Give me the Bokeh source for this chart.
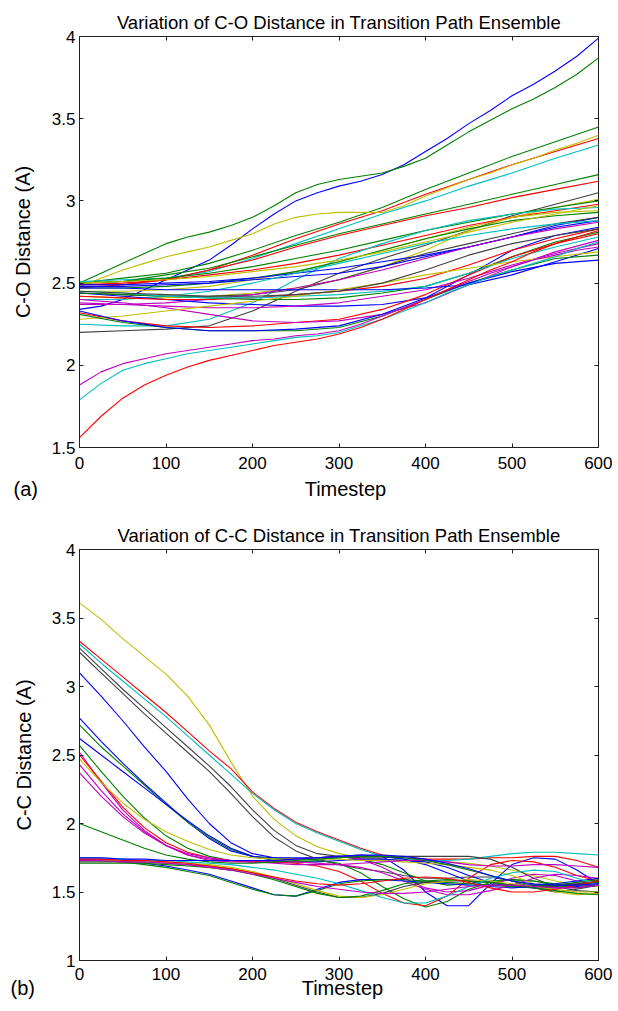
from bokeh.plotting import figure
from bokeh.layouts import column
from bokeh.models import LinearAxis, FixedTicker, CustomJSTickFormatter, Range1d, Title
from bokeh.embed import file_html
from bokeh.resources import INLINE

# ---------------- (a) C-O distance ----------------
co_steps = [0, 50, 100, 150, 200, 250, 300, 350, 400, 450, 500, 550, 600]
co_steps_fine = [0, 25, 50, 75, 100, 125, 150, 175, 200, 225, 250, 275, 300,
                 325, 350, 375, 400, 425, 450, 475, 500, 525, 550, 575, 600]
co_01 = [2.34, 2.36, 2.40, 2.46, 2.52, 2.58, 2.64, 2.73, 2.83, 2.92, 3.00, 3.05, 3.09, 3.12, 3.16, 3.22, 3.30, 3.38, 3.47, 3.55, 3.64, 3.71, 3.79, 3.88, 3.99]
co_02 = [2.50, 2.56, 2.62, 2.68, 2.74, 2.78, 2.81, 2.85, 2.90, 2.97, 3.05, 3.10, 3.13, 3.15, 3.17, 3.21, 3.26, 3.34, 3.42, 3.49, 3.56, 3.62, 3.69, 3.77, 3.87]
co_03 = [2.50, 2.53, 2.56, 2.62, 2.70, 2.79, 2.87, 2.96, 3.07, 3.17, 3.27, 3.36, 3.45]
co_04 = [2.49, 2.49, 2.52, 2.58, 2.67, 2.77, 2.86, 2.94, 3.04, 3.13, 3.22, 3.30, 3.38]
co_05 = [2.48, 2.53, 2.58, 2.62, 2.66, 2.69, 2.72, 2.76, 2.80, 2.86, 2.90, 2.92, 2.93, 2.93, 2.93, 2.97, 3.03, 3.08, 3.13, 3.17, 3.22, 3.26, 3.31, 3.35, 3.40]
co_06 = [2.51, 2.52, 2.53, 2.57, 2.65, 2.74, 2.83, 2.92, 3.00, 3.09, 3.17, 3.26, 3.34]
co_07 = [2.50, 2.51, 2.55, 2.59, 2.66, 2.73, 2.80, 2.86, 2.92, 2.98, 3.04, 3.10, 3.16]
co_08 = [2.47, 2.49, 2.52, 2.58, 2.64, 2.72, 2.79, 2.85, 2.91, 2.96, 3.02, 3.07, 3.12]
co_09 = [2.20, 2.21, 2.22, 2.24, 2.33, 2.45, 2.56, 2.65, 2.73, 2.82, 2.91, 2.98, 3.05]
co_10 = [2.45, 2.45, 2.46, 2.48, 2.52, 2.57, 2.63, 2.70, 2.77, 2.84, 2.90, 2.96, 3.01]
co_11 = [2.50, 2.51, 2.53, 2.56, 2.60, 2.65, 2.70, 2.76, 2.82, 2.87, 2.92, 2.96, 3.00]
co_12 = [2.49, 2.50, 2.52, 2.55, 2.58, 2.62, 2.67, 2.73, 2.79, 2.85, 2.90, 2.94, 2.98]
co_13 = [2.25, 2.24, 2.24, 2.28, 2.38, 2.52, 2.65, 2.74, 2.82, 2.88, 2.92, 2.95, 2.96]
co_14 = [2.42, 2.41, 2.41, 2.42, 2.44, 2.47, 2.52, 2.60, 2.70, 2.82, 2.90, 2.93, 2.94]
co_15 = [2.47, 2.47, 2.48, 2.50, 2.53, 2.57, 2.63, 2.70, 2.77, 2.83, 2.88, 2.91, 2.93]
co_16 = [2.49, 2.49, 2.50, 2.51, 2.53, 2.56, 2.59, 2.63, 2.67, 2.72, 2.78, 2.85, 2.90]
co_17 = [2.44, 2.43, 2.42, 2.42, 2.43, 2.46, 2.52, 2.60, 2.68, 2.74, 2.80, 2.86, 2.90]
co_18 = [2.48, 2.48, 2.49, 2.50, 2.52, 2.54, 2.56, 2.60, 2.66, 2.72, 2.78, 2.84, 2.88]
co_19 = [2.40, 2.40, 2.42, 2.45, 2.50, 2.56, 2.62, 2.68, 2.74, 2.79, 2.83, 2.86, 2.88]
co_20 = [2.37, 2.37, 2.38, 2.40, 2.43, 2.47, 2.52, 2.58, 2.65, 2.72, 2.78, 2.83, 2.87]
co_21 = [2.44, 2.42, 2.40, 2.38, 2.37, 2.36, 2.36, 2.37, 2.41, 2.55, 2.70, 2.79, 2.84]
co_22 = [2.42, 2.41, 2.40, 2.40, 2.41, 2.43, 2.45, 2.48, 2.53, 2.61, 2.70, 2.77, 2.83]
co_23 = [2.44, 2.43, 2.42, 2.41, 2.40, 2.40, 2.41, 2.44, 2.48, 2.56, 2.66, 2.75, 2.81]
co_24 = [2.32, 2.27, 2.24, 2.23, 2.24, 2.26, 2.28, 2.34, 2.43, 2.55, 2.66, 2.74, 2.80]
co_25 = [2.45, 2.44, 2.42, 2.41, 2.41, 2.42, 2.43, 2.45, 2.48, 2.56, 2.65, 2.72, 2.78]
co_26 = [2.40, 2.38, 2.35, 2.31, 2.27, 2.26, 2.27, 2.31, 2.38, 2.49, 2.60, 2.69, 2.76]
co_27 = [2.38, 2.37, 2.36, 2.35, 2.35, 2.36, 2.38, 2.42, 2.46, 2.53, 2.61, 2.68, 2.74]
co_28 = [2.47, 2.47, 2.46, 2.46, 2.46, 2.46, 2.46, 2.46, 2.47, 2.49, 2.55, 2.63, 2.71]
co_29 = [2.28, 2.30, 2.33, 2.36, 2.39, 2.42, 2.46, 2.50, 2.55, 2.59, 2.63, 2.66, 2.69]
co_30 = [2.31, 2.26, 2.23, 2.21, 2.21, 2.21, 2.23, 2.30, 2.40, 2.50, 2.58, 2.65, 2.67]
co_31 = [2.33, 2.27, 2.23, 2.21, 2.21, 2.22, 2.24, 2.31, 2.41, 2.50, 2.57, 2.62, 2.64]
co_32 = [1.88, 1.96, 2.01, 2.04, 2.07, 2.09, 2.11, 2.13, 2.15, 2.16, 2.18, 2.19, 2.21, 2.25, 2.30, 2.35, 2.40, 2.46, 2.51, 2.56, 2.60, 2.64, 2.67, 2.70, 2.72]
co_33 = [1.79, 1.89, 1.97, 2.01, 2.04, 2.07, 2.09, 2.11, 2.13, 2.15, 2.17, 2.18, 2.20, 2.24, 2.28, 2.33, 2.38, 2.44, 2.49, 2.54, 2.58, 2.62, 2.66, 2.71, 2.75]
co_34 = [1.56, 1.69, 1.80, 1.88, 1.94, 1.99, 2.03, 2.06, 2.09, 2.12, 2.14, 2.16, 2.19, 2.23, 2.28, 2.34, 2.40, 2.46, 2.52, 2.58, 2.63, 2.69, 2.74, 2.78, 2.82]
co_35 = [2.50, 2.51, 2.52, 2.54, 2.57, 2.60, 2.64, 2.69, 2.75, 2.81, 2.87, 2.92, 2.97]
co_36 = [2.45, 2.44, 2.43, 2.42, 2.42, 2.43, 2.45, 2.50, 2.58, 2.67, 2.74, 2.79, 2.83]
co_series = [co_01, co_02, co_03, co_04, co_05, co_06, co_07, co_08, co_09, co_10, co_11, co_12,
             co_13, co_14, co_15, co_16, co_17, co_18, co_19, co_20, co_21, co_22, co_23, co_24,
             co_25, co_26, co_27, co_28, co_29, co_30, co_31, co_32, co_33, co_34, co_35, co_36]
co_colors = ["b", "g", "g", "r", "y", "c", "g", "r", "k", "y", "g", "r",
             "c", "y", "g", "b", "k", "b", "c", "m", "b", "r", "g", "r",
             "c", "m", "m", "b", "y", "g", "b", "m", "c", "r", "y", "k"]
co_yticks = [1.5, 2, 2.5, 3, 3.5, 4]

# ---------------- (b) C-C distance ----------------
cc_steps = [0, 25, 50, 75, 100, 125, 150, 175, 200, 225, 250, 275, 300,
            325, 350, 375, 400, 425, 450, 475, 500, 525, 550, 575, 600]
cc_01 = [3.61, 3.49, 3.35, 3.22, 3.09, 2.93, 2.72, 2.45, 2.20, 2.03, 1.91, 1.83, 1.78, 1.75, 1.74, 1.73, 1.73, 1.72, 1.71, 1.69, 1.66, 1.62, 1.58, 1.55, 1.54]
cc_02 = [3.33, 3.20, 3.07, 2.94, 2.81, 2.67, 2.53, 2.40, 2.23, 2.11, 2.01, 1.94, 1.88, 1.82, 1.77, 1.75, 1.74, 1.74, 1.74, 1.75, 1.75, 1.76, 1.76, 1.73, 1.68]
cc_03 = [3.31, 3.17, 3.04, 2.91, 2.78, 2.64, 2.50, 2.36, 2.22, 2.10, 2.00, 1.93, 1.87, 1.81, 1.76, 1.74, 1.73, 1.73, 1.74, 1.76, 1.78, 1.79, 1.79, 1.78, 1.77]
cc_04 = [3.28, 3.13, 2.98, 2.84, 2.70, 2.56, 2.42, 2.27, 2.10, 1.95, 1.84, 1.78, 1.76, 1.75, 1.75, 1.76, 1.76, 1.76, 1.76, 1.74, 1.68, 1.60, 1.54, 1.51, 1.50]
cc_05 = [3.25, 3.10, 2.95, 2.80, 2.66, 2.52, 2.38, 2.22, 2.05, 1.90, 1.80, 1.74, 1.70, 1.67, 1.65, 1.62, 1.60, 1.60, 1.61, 1.61, 1.58, 1.53, 1.50, 1.52, 1.55]
cc_06 = [3.10, 2.93, 2.75, 2.56, 2.38, 2.18, 2.00, 1.86, 1.78, 1.75, 1.74, 1.74, 1.75, 1.76, 1.76, 1.74, 1.70, 1.64, 1.58, 1.54, 1.53, 1.54, 1.55, 1.56, 1.57]
cc_07 = [2.77, 2.60, 2.44, 2.29, 2.15, 2.01, 1.89, 1.80, 1.76, 1.75, 1.75, 1.75, 1.76, 1.77, 1.76, 1.66, 1.50, 1.40, 1.40, 1.56, 1.70, 1.75, 1.74, 1.66, 1.56]
cc_08 = [2.72, 2.56, 2.42, 2.28, 2.14, 2.01, 1.90, 1.81, 1.76, 1.74, 1.74, 1.75, 1.76, 1.74, 1.70, 1.64, 1.58, 1.55, 1.56, 1.58, 1.59, 1.58, 1.56, 1.55, 1.57]
cc_09 = [2.62, 2.50, 2.38, 2.26, 2.14, 2.02, 1.91, 1.82, 1.76, 1.73, 1.72, 1.72, 1.73, 1.74, 1.74, 1.73, 1.72, 1.68, 1.62, 1.57, 1.54, 1.53, 1.53, 1.54, 1.55]
cc_10 = [2.57, 2.38, 2.20, 2.04, 1.91, 1.82, 1.76, 1.73, 1.72, 1.72, 1.72, 1.73, 1.71, 1.64, 1.54, 1.45, 1.39, 1.43, 1.52, 1.57, 1.59, 1.58, 1.55, 1.53, 1.55]
cc_11 = [2.52, 2.30, 2.10, 1.95, 1.84, 1.77, 1.73, 1.72, 1.72, 1.73, 1.74, 1.75, 1.76, 1.74, 1.68, 1.60, 1.53, 1.50, 1.51, 1.55, 1.60, 1.63, 1.62, 1.58, 1.55]
cc_12 = [2.50, 2.31, 2.12, 1.97, 1.86, 1.79, 1.75, 1.73, 1.72, 1.72, 1.71, 1.69, 1.65, 1.58, 1.49, 1.42, 1.40, 1.47, 1.60, 1.70, 1.73, 1.72, 1.68, 1.62, 1.58]
cc_13 = [2.47, 2.30, 2.15, 2.03, 1.94, 1.87, 1.81, 1.77, 1.75, 1.74, 1.74, 1.74, 1.74, 1.73, 1.73, 1.72, 1.71, 1.70, 1.68, 1.66, 1.62, 1.56, 1.50, 1.48, 1.49]
cc_14 = [2.43, 2.24, 2.07, 1.94, 1.84, 1.77, 1.74, 1.73, 1.73, 1.72, 1.72, 1.71, 1.70, 1.68, 1.64, 1.58, 1.52, 1.48, 1.48, 1.51, 1.55, 1.60, 1.63, 1.62, 1.60]
cc_15 = [2.37, 2.20, 2.05, 1.93, 1.84, 1.78, 1.75, 1.73, 1.72, 1.71, 1.70, 1.70, 1.70, 1.71, 1.72, 1.73, 1.73, 1.72, 1.70, 1.69, 1.69, 1.70, 1.70, 1.69, 1.68]
cc_16 = [2.00, 1.94, 1.88, 1.82, 1.77, 1.74, 1.72, 1.71, 1.71, 1.72, 1.73, 1.74, 1.75, 1.76, 1.76, 1.75, 1.73, 1.70, 1.66, 1.62, 1.58, 1.55, 1.54, 1.55, 1.57]
cc_17 = [1.74, 1.74, 1.73, 1.71, 1.69, 1.66, 1.63, 1.58, 1.53, 1.48, 1.47, 1.52, 1.57, 1.59, 1.59, 1.58, 1.57, 1.56, 1.55, 1.55, 1.55, 1.55, 1.56, 1.58, 1.60]
cc_18 = [1.73, 1.73, 1.72, 1.70, 1.68, 1.65, 1.62, 1.57, 1.52, 1.48, 1.47, 1.51, 1.56, 1.58, 1.59, 1.59, 1.58, 1.57, 1.56, 1.55, 1.54, 1.54, 1.55, 1.57, 1.59]
cc_19 = [1.72, 1.72, 1.72, 1.72, 1.71, 1.70, 1.69, 1.67, 1.64, 1.60, 1.55, 1.50, 1.46, 1.46, 1.49, 1.54, 1.57, 1.58, 1.58, 1.57, 1.55, 1.54, 1.54, 1.56, 1.58]
cc_20 = [1.73, 1.73, 1.73, 1.72, 1.72, 1.71, 1.70, 1.68, 1.65, 1.61, 1.56, 1.51, 1.47, 1.46, 1.48, 1.52, 1.56, 1.58, 1.59, 1.58, 1.56, 1.54, 1.52, 1.50, 1.50]
cc_21 = [1.71, 1.71, 1.71, 1.71, 1.70, 1.69, 1.68, 1.66, 1.63, 1.59, 1.54, 1.49, 1.46, 1.47, 1.51, 1.56, 1.58, 1.59, 1.58, 1.57, 1.55, 1.53, 1.51, 1.49, 1.48]
cc_22 = [1.75, 1.75, 1.74, 1.73, 1.73, 1.72, 1.71, 1.70, 1.68, 1.66, 1.63, 1.60, 1.56, 1.51, 1.46, 1.42, 1.42, 1.47, 1.54, 1.60, 1.64, 1.66, 1.65, 1.60, 1.55]
cc_23 = [1.74, 1.74, 1.73, 1.73, 1.72, 1.71, 1.69, 1.67, 1.64, 1.61, 1.58, 1.56, 1.55, 1.56, 1.58, 1.60, 1.61, 1.60, 1.57, 1.53, 1.50, 1.50, 1.52, 1.55, 1.58]
cc_24 = [1.73, 1.73, 1.72, 1.72, 1.71, 1.70, 1.68, 1.66, 1.63, 1.60, 1.57, 1.54, 1.52, 1.50, 1.49, 1.49, 1.50, 1.52, 1.54, 1.55, 1.55, 1.54, 1.53, 1.53, 1.55]
cc_25 = [1.75, 1.75, 1.74, 1.74, 1.73, 1.73, 1.73, 1.73, 1.73, 1.73, 1.74, 1.75, 1.76, 1.77, 1.77, 1.76, 1.74, 1.71, 1.67, 1.62, 1.58, 1.56, 1.55, 1.55, 1.56]
cc_series = [cc_01, cc_02, cc_03, cc_04, cc_05, cc_06, cc_07, cc_08, cc_09, cc_10, cc_11, cc_12, cc_13,
             cc_14, cc_15, cc_16, cc_17, cc_18, cc_19, cc_20, cc_21, cc_22, cc_23, cc_24, cc_25]
cc_colors = ["y", "r", "c", "k", "k", "b", "b", "g", "b", "g", "m", "r", "y",
             "m", "m", "g", "b", "g", "k", "y", "g", "c", "r", "m", "b"]
cc_yticks = [1, 1.5, 2, 2.5, 3, 3.5, 4]

x_ticks = [0, 100, 200, 300, 400, 500, 600]
x_label = "Timestep"

PALETTE = {"b": "#0000ff", "g": "#008000", "r": "#ff0000", "c": "#00bfbf",
           "m": "#bf00bf", "y": "#bfbf00", "k": "#404040"}
FONT = "Liberation Sans"
NBSP = "\u00a0"


def build(title, ylabel, tag, step_sets, series, colors, y_ticks, y_lo, y_hi,
          width, height, b_left, b_right, b_top, b_bottom, ylab_standoff,
          xtick_standoff, row_standoff, tag_offset, gap):
    p = figure(width=width, height=height, output_backend="svg", toolbar_location=None,
               x_range=Range1d(0, 600), y_range=Range1d(y_lo, y_hi),
               min_border_left=b_left, min_border_right=b_right,
               min_border_top=b_top, min_border_bottom=b_bottom,
               background_fill_color="white", border_fill_color="white")
    p.grid.visible = False
    p.outline_line_color = "#202020"
    p.outline_line_width = 1

    for vals, c in zip(series, colors):
        steps = next(s for s in step_sets if len(s) == len(vals))
        p.line(steps, vals, line_color=PALETTE[c], line_width=1.1, line_join="round")

    p.title.text = title
    p.title.align = "center"
    p.title.text_font = FONT
    p.title.text_font_size = "18.5px"
    p.title.text_font_style = "normal"
    p.title.text_color = "black"
    p.title.standoff = 7

    xa = p.xaxis[0]
    ya = p.yaxis[0]
    xa.ticker = FixedTicker(ticks=x_ticks)
    ya.ticker = FixedTicker(ticks=y_ticks)
    xa.formatter = CustomJSTickFormatter(code="return tick.toString();")
    ya.formatter = CustomJSTickFormatter(code="return tick.toString();")
    ya.axis_label = ylabel
    for ax in (xa, ya):
        ax.major_tick_in = 4
        ax.major_tick_out = 0
        ax.minor_tick_line_color = None
        ax.axis_line_color = "#202020"
        ax.major_tick_line_color = "#202020"
        ax.major_label_text_font = FONT
        ax.major_label_text_font_size = "17px"
        ax.major_label_text_color = "black"
        ax.axis_label_text_font = FONT
        ax.axis_label_text_font_size = "20px"
        ax.axis_label_text_font_style = "normal"
        ax.axis_label_text_color = "black"
    xa.major_label_standoff = xtick_standoff
    ya.major_label_standoff = 4
    ya.axis_label_standoff = ylab_standoff

    blank = "return '';"
    top_ax = LinearAxis(ticker=FixedTicker(ticks=x_ticks),
                        formatter=CustomJSTickFormatter(code=blank),
                        major_label_text_font_size="0px", major_label_standoff=0,
                        axis_line_color=None, major_tick_in=4, major_tick_out=0,
                        major_tick_line_color="#202020", minor_tick_line_color=None)
    p.add_layout(top_ax, "above")
    right_ax = LinearAxis(ticker=FixedTicker(ticks=y_ticks),
                          formatter=CustomJSTickFormatter(code=blank),
                          major_label_text_font_size="0px", major_label_standoff=0,
                          axis_line_color=None, major_tick_in=4, major_tick_out=0,
                          major_tick_line_color="#202020", minor_tick_line_color=None)
    p.add_layout(right_ax, "right")

    # panel tag and x-axis label share one text row under the tick labels
    row = Title(text=tag + NBSP * gap + x_label, align="left", vertical_align="top",
                offset=tag_offset, standoff=row_standoff, text_font=FONT,
                text_font_size="20px", text_font_style="normal", text_color="black")
    p.add_layout(row, "below")
    return p


p1 = build("Variation of C-O Distance in Transition Path Ensemble", "C-O Distance (A)", "(a)",
           [co_steps, co_steps_fine], co_series, co_colors, co_yticks, 1.5, 4,
           width=612, height=508, b_left=75, b_right=14, b_top=36, b_bottom=61,
           ylab_standoff=15, xtick_standoff=9, row_standoff=12, tag_offset=-66, gap=48)
p2 = build("Variation of C-C Distance in Transition Path Ensemble", "C-C Distance (A)", "(b)",
           [cc_steps], cc_series, cc_colors, cc_yticks, 1, 4,
           width=612, height=492, b_left=79, b_right=12, b_top=41, b_bottom=40,
           ylab_standoff=14, xtick_standoff=7, row_standoff=-11, tag_offset=-69, gap=48)

layout = column(p1, p2)
open("out.html", "w").write(file_html(layout, INLINE))
